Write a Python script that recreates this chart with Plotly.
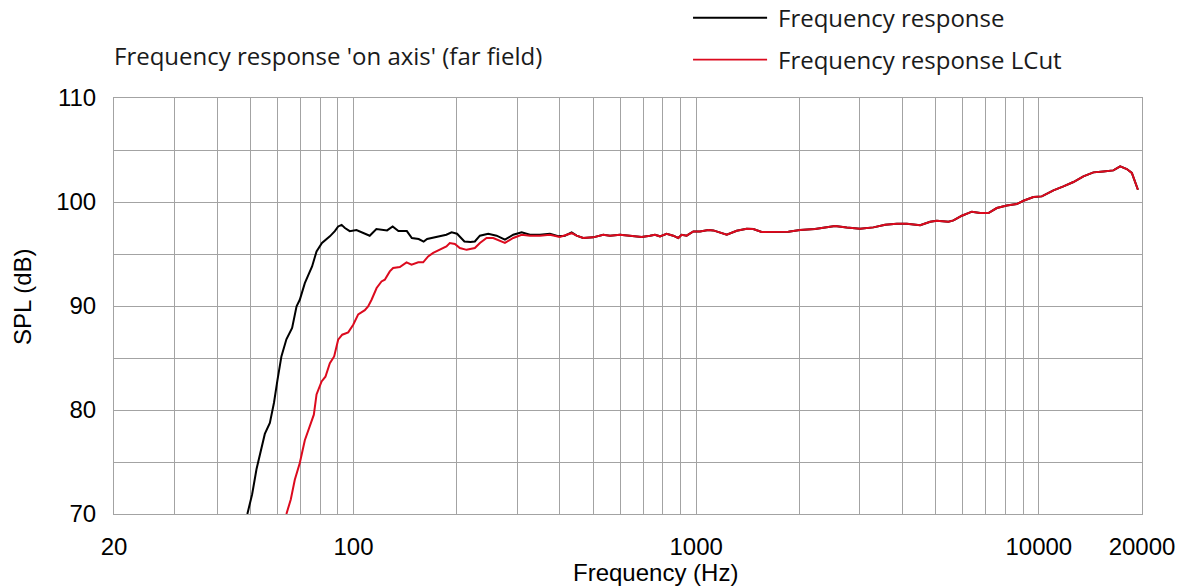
import numpy as np
import plotly.graph_objects as go

# Low-frequency part of the unfiltered response (Hz, dB SPL)
full_low_freq = [49.0, 50.6, 52.1, 53.6, 55.1, 57.0, 58.6, 60.0, 61.6, 63.7, 66.2, 68.2, 69.7,
                 72.1, 75.7, 78.0, 80.9, 85.3, 88.2, 90.2, 92.3, 94.4, 97.5, 102, 106.7, 111.5,
                 116.6, 121.9, 125.3, 130.1, 135.2, 143.1, 148.0, 154.9, 160.2, 164.0, 169.9,
                 178.0, 186.6, 193.3, 200.5, 210.7, 219.4, 226, 233.8, 247.2, 261.6, 276.6,
                 292.5, 309.5, 327.3, 350, 374.2, 395.7, 414, 433, 447.8]
full_low_spl = [70.0, 71.9, 74.3, 75.9, 77.7, 78.75, 80.7, 82.9, 85.15, 86.8, 87.9, 89.96, 90.6,
                92.2, 93.8, 95.25, 96.06, 96.7, 97.2, 97.65, 97.8, 97.5, 97.2, 97.3, 97.0, 96.76,
                97.4, 97.34, 97.27, 97.65, 97.2, 97.2, 96.54, 96.44, 96.2, 96.44, 96.54,
                96.7, 96.85, 97.08, 96.95, 96.2, 96.15, 96.2, 96.76, 96.95, 96.76, 96.38,
                96.85, 97.08, 96.85, 96.85, 96.95, 96.7, 96.76, 97.08, 96.76]

# Low-frequency part of the low-cut response
lcut_low_freq = [63.7, 65.6, 67.4, 69.7, 72.1, 74.6, 76.6, 78.0, 80.7, 82.8, 85.3, 87.8, 90.2,
                 92.7, 96.5, 99.8, 103.2, 107.9, 110.3, 112.9, 116.8, 120.7, 123.4, 127.6, 130.5,
                 136.5, 142.8, 147.7, 154.5, 159.7, 165.1, 170.8, 178.6, 186.7, 191.0, 197.6,
                 204.3, 213.8, 226, 233.8, 244.5, 255.7, 276.6, 292.5, 309.5, 327.3, 350, 374,
                 400, 433, 447.8]
lcut_low_spl = [70.0, 71.4, 73.3, 74.9, 77.1, 78.6, 79.55, 81.5, 82.75, 83.2, 84.5, 85.15, 86.76,
                87.24, 87.46, 88.2, 89.2, 89.6, 89.96, 90.6, 91.73, 92.36, 92.53, 93.33, 93.65,
                93.75, 94.2, 93.97, 94.2, 94.2, 94.77, 95.1, 95.4, 95.73, 96.06, 95.96,
                95.58, 95.4, 95.58, 96.06, 96.54, 96.54, 96.06, 96.54, 96.85, 96.76, 96.76, 96.85,
                96.63, 97.0, 96.76]

# Above ~470 Hz both responses coincide
shared_freq = [468, 500.6, 535.5, 560.3, 599.4, 641, 693.3, 733, 758, 784, 820, 857, 886.5, 907,
               938, 981, 1026, 1085, 1122, 1228, 1313, 1404, 1468, 1552, 1718, 1858, 2009, 2222,
               2350, 2543, 2751, 3007, 3290, 3560, 3850, 4119, 4504, 4818, 5037, 5446, 5636,
               5962, 6375, 6742, 7127, 7538, 8061, 8621, 9016, 9643, 10199, 11030, 11796, 12615,
               13490, 14430, 15430, 16500, 17270, 18060, 18680, 19100, 19460]
shared_spl = [96.54, 96.6, 96.85, 96.76, 96.85, 96.76, 96.63, 96.76, 96.85, 96.7, 96.95, 96.76,
              96.54, 96.85, 96.76, 97.17, 97.17, 97.3, 97.27, 96.85, 97.24, 97.43, 97.4, 97.11,
              97.11, 97.14, 97.3, 97.4, 97.53, 97.7, 97.55, 97.42, 97.56, 97.82, 97.9, 97.91,
              97.77, 98.1, 98.2, 98.1, 98.23, 98.68, 99.07, 98.94, 98.94, 99.42, 99.67, 99.8,
              100.12, 100.48, 100.54, 101.12, 101.5, 101.92, 102.46, 102.85, 102.94, 103.04,
              103.42, 103.17, 102.79, 101.98, 101.18]

series_names = ["Frequency response", "Frequency response LCut"]

# Axis ticks: gridlines at every decade step, labels only on a few
grid_freqs = [20, 30, 40, 50, 60, 70, 80, 90, 100, 200, 300, 400, 500, 600, 700, 800, 900,
              1000, 2000, 3000, 4000, 5000, 6000, 7000, 8000, 9000, 10000, 20000]
labelled_freqs = [20, 100, 1000, 10000, 20000]
spl_ticks = [70, 75, 80, 85, 90, 95, 100, 105, 110]

BLACK = "#000000"
RED = "#dc0a1e"
GRID = "#a3a3a3"
TICK_FONT = "Liberation Sans, Arial, sans-serif"
TEXT_FONT = "Open Sans, Noto Sans, sans-serif"

fig = go.Figure()
fig.add_trace(go.Scatter(x=full_low_freq + shared_freq, y=full_low_spl + shared_spl,
                         mode="lines", name=series_names[0],
                         line=dict(color=BLACK, width=2)))
fig.add_trace(go.Scatter(x=lcut_low_freq + shared_freq, y=lcut_low_spl + shared_spl,
                         mode="lines", name=series_names[1],
                         line=dict(color=RED, width=2)))

fig.update_xaxes(
    type="log", range=[np.log10(20), np.log10(20000)],
    tickmode="array", tickvals=grid_freqs,
    ticktext=[str(f) if f in labelled_freqs else "" for f in grid_freqs],
    showgrid=True, gridcolor=GRID, gridwidth=1,
    showline=True, linecolor=GRID, linewidth=1, mirror=True,
    ticks="", ticklabelstandoff=11, automargin=False,
    tickfont=dict(family=TICK_FONT, size=24, color="#000"),
    zeroline=False,
)
fig.update_yaxes(
    range=[70, 110], tickmode="array", tickvals=spl_ticks,
    ticktext=[str(v) if v % 10 == 0 else "" for v in spl_ticks],
    showgrid=True, gridcolor=GRID, gridwidth=1,
    showline=True, linecolor=GRID, linewidth=1, mirror=True,
    ticks="", ticklabelstandoff=12, automargin=False,
    tickfont=dict(family=TICK_FONT, size=24, color="#000"),
    zeroline=False,
)

annotations = [
    dict(text="Frequency response 'on axis' (far field)", xref="paper", yref="paper",
         x=0, y=1, xanchor="left", yanchor="middle", xshift=-2, yshift=43, showarrow=False,
         font=dict(family=TEXT_FONT, size=24, color="#1a1a1a")),
    dict(text="Frequency (Hz)", xref="paper", yref="paper", x=0.5, y=0,
         xanchor="center", yanchor="middle", xshift=27, yshift=-58, showarrow=False,
         font=dict(family=TICK_FONT, size=24, color="#000")),
    dict(text="SPL (dB)", xref="paper", yref="paper", x=0, y=0.5, textangle=-90,
         xanchor="center", yanchor="middle", xshift=-92, yshift=9, showarrow=False,
         font=dict(family=TICK_FONT, size=24, color="#000")),
]

# Legend drawn as line samples with labels at the top right
shapes = []
for i, (name, color) in enumerate(zip(series_names, [BLACK, RED])):
    y_px = 18 + 42 * i
    shapes.append(dict(type="line", xref="paper", yref="paper",
                       x0=(693 - 114.3) / 1027.4, x1=(767 - 114.3) / 1027.4,
                       y0=(514 - y_px) / 415.7, y1=(514 - y_px) / 415.7,
                       line=dict(color=color, width=2 if i == 0 else 1.6)))
    annotations.append(dict(text=name, xref="paper", yref="paper",
                            x=(776 - 114.3) / 1027.4, y=(514 - y_px) / 415.7,
                            xanchor="left", yanchor="middle", showarrow=False,
                            font=dict(family=TEXT_FONT, size=24, color="#1a1a1a")))

fig.update_layout(
    width=1181, height=587,
    margin=dict(l=114.3, r=39.3, t=98.3, b=73),
    plot_bgcolor="white", paper_bgcolor="white",
    showlegend=False,
    annotations=annotations, shapes=shapes,
)

fig.write_html("out.html")
